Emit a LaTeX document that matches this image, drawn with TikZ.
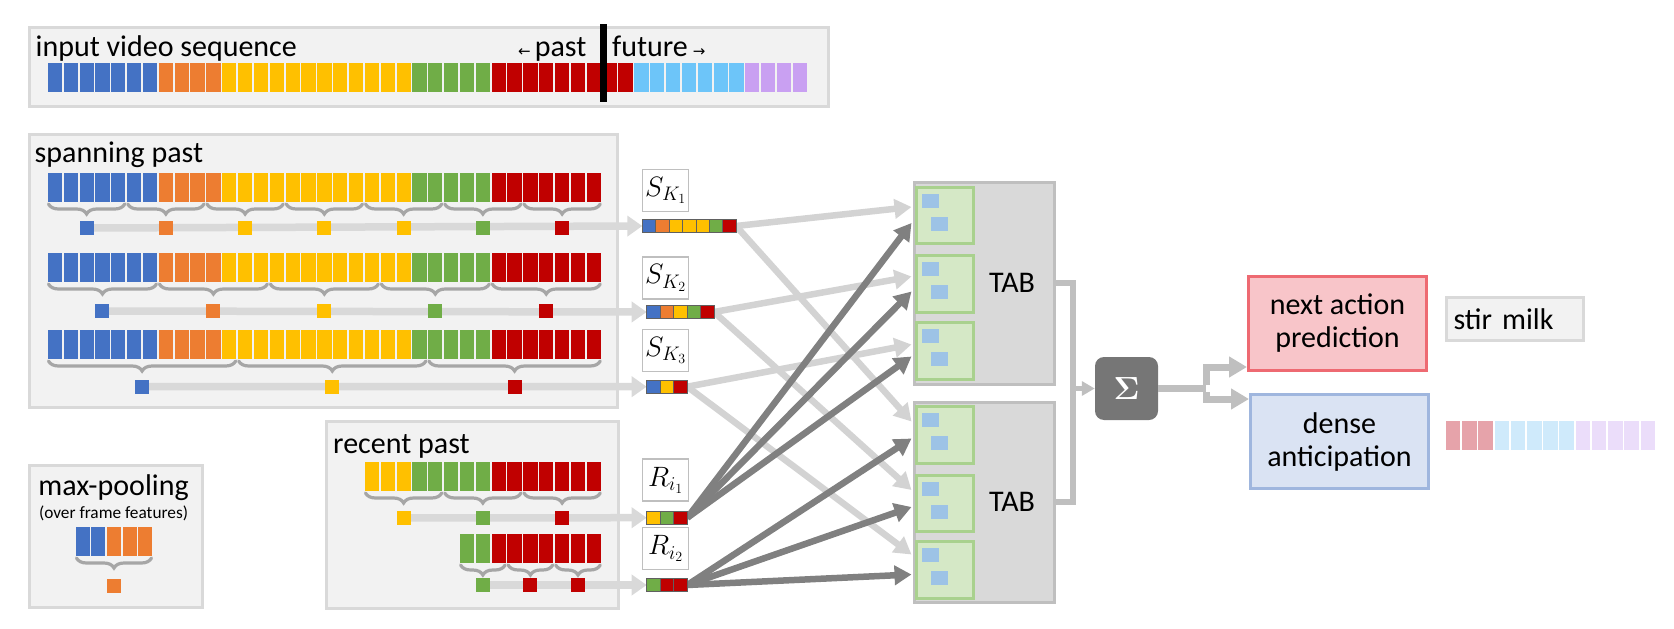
\documentclass[tikz,border=0pt]{standalone}
\usepackage{fix-cm}
\usepackage[no-math]{fontspec}
\setmainfont{Carlito}
\newfontfamily\arrowfont{DejaVu Sans}
\usetikzlibrary{arrows.meta,decorations.pathreplacing,calc}
\pgfdeclarelayer{panels}
\pgfdeclarelayer{lines}
\pgfsetlayers{panels,lines,main}

% frame colours
\definecolor{fblu}{HTML}{4472C4}
\definecolor{forg}{HTML}{ED7D31}
\definecolor{fyel}{HTML}{FFC000}
\definecolor{fgrn}{HTML}{70AD47}
\definecolor{fred}{HTML}{C00000}
\definecolor{flbl}{HTML}{6DC5F9}
\definecolor{fpur}{HTML}{C9A0F2}
% faded output frames
\definecolor{ored}{HTML}{E6A3AA}
\definecolor{olbl}{HTML}{CFEAFB}
\definecolor{opur}{HTML}{EBDDFA}
% boxes and connectors
\definecolor{panelbg}{HTML}{F2F2F2}
\definecolor{panelln}{HTML}{D9D9D9}
\definecolor{bracec}{HTML}{A6A6A6}
\definecolor{featln}{HTML}{D9D9D9}
\definecolor{cellln}{HTML}{606060}
\definecolor{lightarr}{HTML}{D3D3D3}
\definecolor{darkarr}{HTML}{808080}
\definecolor{tabbg}{HTML}{D9D9D9}
\definecolor{tabln}{HTML}{BFBFBF}
\definecolor{blkbg}{HTML}{D5E8C6}
\definecolor{blkln}{HTML}{A9D18E}
\definecolor{blksq}{HTML}{9DC3E6}
\definecolor{sumbg}{HTML}{767676}
\definecolor{nabg}{HTML}{F8C5C9}
\definecolor{naln}{HTML}{EE6A72}
\definecolor{dabg}{HTML}{DAE3F3}
\definecolor{daln}{HTML}{9FB6DE}

% colour of frame number #1 in the full sequence
\newcommand\framecolor[1]{\ifnum#1<7 fblu\else\ifnum#1<11 forg\else\ifnum#1<23 fyel\else\ifnum#1<28 fgrn\else\ifnum#1<37 fred\else\ifnum#1<44 flbl\else fpur\fi\fi\fi\fi\fi\fi}
% frames #1..#2, first one at x=#3, top y=#4, pitch #5
\newcommand\framestrip[5]{%
  \foreach \k in {#1,...,#2}{%
    \edef\frcol{\framecolor{\k}}%
    \fill[fill=\frcol] ({#3+(\k-#1)*#5+0.8}, #4) rectangle ++({#5-1.6}, 29);
  }}
% coloured cells of a feature vector node #1, cell width #2, colours #3
\newcommand\veccells[3]{%
  \foreach \c [count=\k from 0] in {#3}{%
    \filldraw[vcell, fill=\c] ($(#1.west)+({\k*#2},-6.7)$) rectangle ++(#2,13.4);
  }}

\begin{document}
\begin{tikzpicture}[x=1pt,y=-1pt,
  panel/.style={draw=panelln, fill=panelbg, line width=3pt, inner sep=0pt, anchor=north west},
  lbl/.style={font=\fontsize{30}{33}\selectfont, inner sep=0pt},
  smalllbl/.style={font=\fontsize{17.3}{20}\selectfont, inner sep=0pt},
  featsq/.style={minimum size=14pt, inner sep=0pt, outer sep=0pt, draw=none},
  featarr/.style={draw=featln, line width=7.5pt, -{Triangle[length=15pt,width=20pt]}},
  brc/.style={draw=bracec, line width=3.2pt, line cap=round, decorate, decoration={brace,mirror,amplitude=10pt}},
  vecnode/.style={minimum height=13.4pt, inner sep=0pt, outer sep=0pt, draw=none},
  vcell/.style={draw=cellln, line width=0.8pt},
  lblbox/.style={draw=tabln, fill=white, line width=1.2pt, minimum width=46pt, minimum height=42pt, inner sep=0pt, font=\fontsize{28}{28}\selectfont},
  tabbox/.style={draw=tabln, fill=tabbg, line width=3pt, inner sep=0pt, anchor=north west, minimum width=140pt},
  blk/.style={draw=blkln, fill=blkbg, line width=3pt, inner sep=0pt, anchor=north west, minimum width=57pt},
  larr/.style={draw=lightarr, line width=6.5pt, -{Triangle[length=17pt,width=19pt]}},
  darr/.style={draw=darkarr, line width=6.5pt, -{Triangle[length=17pt,width=19pt]}},
  conn/.style={draw=tabln, line width=5.5pt},
  outbox/.style={lbl, line width=3pt, minimum width=178pt, minimum height=94pt, align=center},
  sumbox/.style={fill=sumbg, rounded corners=9pt, minimum size=63pt, inner sep=0pt, text=white, font=\fontsize{32}{32}\selectfont}
]
\useasboundingbox (0,0) rectangle (1674,629);

% ---------- panels ----------
\begin{pgfonlayer}{panels}
  \node[panel, minimum width=799pt, minimum height=79pt] (topbox) at (27.5,25.5) {};
  \node[panel, minimum width=588pt, minimum height=273pt] (spanbox) at (27.5,132.5) {};
  \node[panel, minimum width=292pt, minimum height=187pt] (recentbox) at (324.5,419.5) {};
  \node[panel, minimum width=173pt, minimum height=142pt] (poolbox) at (27.5,463.5) {};
\end{pgfonlayer}

% ---------- input video sequence ----------
\node[lbl, anchor=base west] (tinput) at (35.5,56) {input video sequence};
\node[lbl, anchor=base west] (tpast) at (518,56) {{\arrowfont\fontsize{15}{15}\selectfont ←}\kern4pt past};
\node[lbl, anchor=base west] (tfuture) at (612,56) {future\kern5pt{\arrowfont\fontsize{15}{15}\selectfont →}};
\framestrip{0}{47}{47}{63}{15.85}
\draw[line width=7pt] (603,24) -- (603,102);

% ---------- feature vector anchors and their labels ----------
\node[vecnode, minimum width=93.7pt] (sk1) at (689.2,226) {};
\node[vecnode, minimum width=67.3pt] (sk2) at (680.35,312) {};
\node[vecnode, minimum width=40.6pt] (sk3) at (667,386.7) {};
\node[vecnode, minimum width=40.6pt] (ri1) at (667,517.7) {};
\node[vecnode, minimum width=40.6pt] (ri2) at (667,585) {};

\node[lblbox] (lsk1) at (665.7,190.5) {$S_{K_1}$};
\node[lblbox] (lsk2) at (665.7,278) {$S_{K_2}$};
\node[lblbox] (lsk3) at (665.7,350.3) {$S_{K_3}$};
\node[lblbox] (lri1) at (665.7,480) {$R_{i_1}$};
\node[lblbox] (lri2) at (665.7,548.8) {$R_{i_2}$};

% ---------- spanning past ----------
\node[lbl, anchor=base west] (tspan) at (34.5,162) {spanning past};
\framestrip{0}{34}{47}{173}{15.85}
\framestrip{0}{34}{47}{253}{15.85}
\framestrip{0}{34}{47}{330}{15.85}
\foreach \g in {0,...,6}{\draw[brc] ({47+5*\g*15.85+1.5},204) -- ({47+(5*\g+5)*15.85-1.5},204);}
\foreach \g in {0,...,4}{\draw[brc] ({47+7*\g*15.85+1.5},284) -- ({47+(7*\g+7)*15.85-1.5},284);}
\foreach \a/\b in {0/12,12/24,24/35}{\draw[brc] ({47+\a*15.85+1.5},361) -- ({47+\b*15.85-1.5},361);}
\foreach \c [count=\g from 0] in {fblu,forg,fyel,fyel,fyel,fgrn,fred}
  {\node[featsq, fill=\c] (pa\g) at ({47+(5*\g+2.5)*15.85},228) {};}
\foreach \c [count=\g from 0] in {fblu,forg,fyel,fgrn,fred}
  {\node[featsq, fill=\c] (pb\g) at ({47+(7*\g+3.5)*15.85},311) {};}
\foreach \c/\m [count=\g from 0] in {fblu/6,fyel/18,fred/29.5}
  {\node[featsq, fill=\c] (pc\g) at ({47+\m*15.85},386.5) {};}

% ---------- recent past ----------
\node[lbl, anchor=base west] (trecent) at (333,453) {recent past};
\framestrip{20}{34}{364}{462}{15.85}
\framestrip{26}{34}{459.1}{534}{15.85}
\foreach \g in {0,...,2}{\draw[brc] ({364+5*\g*15.85+1.5},493) -- ({364+(5*\g+5)*15.85-1.5},493);}
\foreach \g in {0,...,2}{\draw[brc] ({459.1+3*\g*15.85+1.5},565) -- ({459.1+(3*\g+3)*15.85-1.5},565);}
\foreach \c/\m [count=\g from 0] in {fyel/22.5,fgrn/27.5,fred/32.5}
  {\node[featsq, fill=\c] (ra\g) at ({47+\m*15.85},518) {};}
\foreach \c/\m [count=\g from 0] in {fgrn/27.5,fred/30.5,fred/33.5}
  {\node[featsq, fill=\c] (rb\g) at ({47+\m*15.85},585) {};}

% ---------- max-pooling legend ----------
\node[lbl, anchor=base] (tpool) at (113.5,495) {max-pooling};
\node[smalllbl, anchor=base] (tpoolsub) at (113.5,518) {(over frame features)};
\framestrip{5}{9}{75}{527}{15.6}
\draw[brc] (76.5,558) -- (151.5,558);
\node[featsq, fill=forg] (pool) at (114,585.5) {};

% ---------- sampled feature lines ----------
\begin{pgfonlayer}{lines}
  \draw[featarr] (pa0.center) -- (sk1.west);
  \draw[featarr] (pb0.center) -- (sk2.west);
  \draw[featarr] (pc0.center) -- (sk3.west);
  \draw[featarr] (ra0.center) -- (ri1.west);
  \draw[featarr] (rb0.center) -- (ri2.west);
\end{pgfonlayer}

% ---------- temporal aggregation blocks ----------
\node[tabbox, minimum height=202pt] (tab1) at (912.5,180.5) {};
\node[tabbox, minimum height=200pt] (tab2) at (912.5,400.5) {};
\node[lbl] (tab1lbl) at (1012,283) {TAB};
\node[lbl] (tab2lbl) at (1012,502) {TAB};
\foreach \n/\y/\h in {b1/185.5/56, b2/253.5/57, b3/320.5/57, b4/404.5/57, b5/473.5/56, b6/539.5/57}{
  \node[blk, minimum height=\h pt] (\n) at (914.5,\y) {};
  \fill[blksq] ($(\n.north west)+(7,8)$) rectangle ++(17,14);
  \fill[blksq] ($(\n.north west)+(16,31)$) rectangle ++(17,14);
}

% spanning features into both blocks
\draw[larr] (sk1.east) -- ($(b1.west)+(-3,-8)$);
\draw[larr] (sk2.east) -- ($(b2.west)+(-3,-7)$);
\draw[larr] (sk3.east) -- ($(b3.west)+(-3,-6)$);
\draw[larr] (sk1.east) -- ($(b4.west)+(-3,-13)$);
\draw[larr] (sk2.east) -- ($(b5.west)+(-3,-13)$);
\draw[larr] (sk3.east) -- ($(b6.west)+(-3,-15)$);
% recent features
\draw[darr] (ri1.east) -- ($(b1.west)+(-3,8)$);
\draw[darr] (ri1.east) -- ($(b2.west)+(-3,8)$);
\draw[darr] (ri1.east) -- ($(b3.west)+(-3,6)$);
\draw[darr] (ri2.east) -- ($(b4.west)+(-3,4)$);
\draw[darr] (ri2.east) -- ($(b5.west)+(-3,4)$);
\draw[darr] (ri2.east) -- ($(b6.west)+(-3,5)$);

% feature vector cells, on top of the connector ends
\veccells{sk1}{13.386}{fblu,forg,fyel,fyel,fyel,fgrn,fred}
\veccells{sk2}{13.46}{fblu,forg,fyel,fgrn,fred}
\veccells{sk3}{13.533}{fblu,fyel,fred}
\veccells{ri1}{13.533}{fyel,fgrn,fred}
\veccells{ri2}{13.533}{fgrn,fred,fred}

% ---------- sum and outputs ----------
\node[sumbox] (sum) at (1126.5,388.5) {$\mathbf{\Sigma}$};
\coordinate (jn) at (1073,388.5);
\draw[conn, line join=miter] (tab1.east) -| (jn) |- (tab2.east);
\draw[conn, -{Triangle[length=13pt,width=14pt]}] (jn) -- (sum.west);

\node[outbox, draw=naln, fill=nabg] (na) at (1337.5,323.5) {next action\\prediction};
\node[outbox, draw=daln, fill=dabg] (da) at (1339.5,441.5) {dense\\anticipation};
\node[lbl, draw=panelln, fill=panelbg, line width=3pt, minimum width=137pt, minimum height=43pt,
      text width=123pt, align=left] (stir) at (1515,319) {stir milk};

\coordinate (sp) at (1206,388.5);
\draw[conn, line width=7pt] (sum.east) -- (sp);
\draw[conn, line width=7pt, -{Triangle[length=18pt,width=20pt]}] ([yshift=3.5pt]sp) |- ($(na.south west)+(0,-5)$);
\draw[conn, line width=7pt, -{Triangle[length=18pt,width=20pt]}] ([yshift=-3.5pt]sp) |- ($(da.north west)+(0,6)$);

\foreach \c [count=\k from 0] in {ored,ored,ored,olbl,olbl,olbl,olbl,olbl,opur,opur,opur,opur,opur}
  {\fill[\c] ({1445+\k*16.23+0.8},421) rectangle ++(14.6,29);}
\end{tikzpicture}
\end{document}
